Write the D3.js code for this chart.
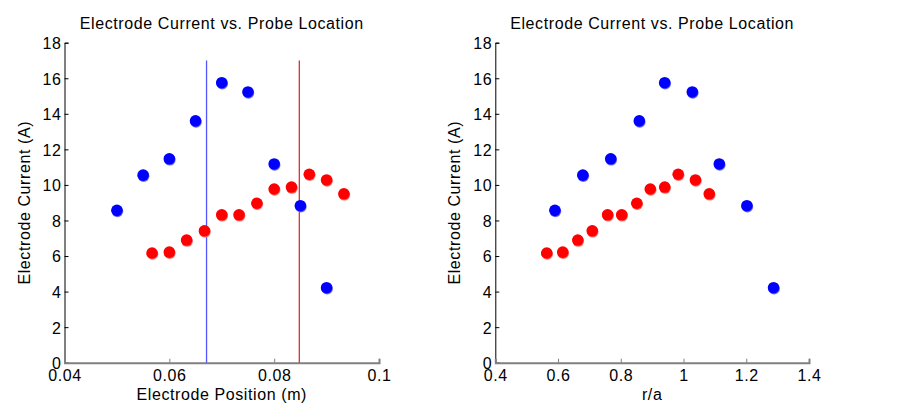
<!DOCTYPE html>
<html><head><meta charset="utf-8">
<script src="https://cdn.jsdelivr.net/npm/d3@7"></script>
<style>body{margin:0;background:#fff}svg{display:block}text{font-family:"Liberation Sans",Arial,sans-serif;fill:#000;letter-spacing:0.6px}</style>
</head><body><svg id="c" width="921" height="417"></svg>
<script>
const title = "Electrode Current vs. Probe Location";
const yLabel = "Electrode Current (A)";
const yTicks = [0,2,4,6,8,10,12,14,16,18];
// Left panel: position (m)
const posTicks = [0.04,0.06,0.08,0.1];
const bluePos = [0.05,0.055,0.06,0.065,0.07,0.075,0.08,0.085,0.09];
const blueCur = [8.57,10.55,11.47,13.6,15.75,15.23,11.18,8.83,4.22];
const redPos = [0.0567,0.06,0.0633,0.0667,0.07,0.0733,0.0767,0.08,0.0833,0.0867,0.09,0.0933];
const redCur = [6.17,6.22,6.9,7.42,8.32,8.32,8.97,9.77,9.88,10.6,10.28,9.5];
const vLines = [{x:0.0671,color:"#5555ff"},{x:0.0848,color:"#e03030"}];
const vLineTop = 17;
// Right panel: r/a
const raTicks = [0.4,0.6,0.8,1,1.2,1.4];
const blueRa = [0.59,0.679,0.768,0.859,0.94,1.028,1.114,1.202,1.287];
const redRa = [0.564,0.615,0.663,0.709,0.758,0.803,0.851,0.894,0.94,0.983,1.038,1.082];

const svg = d3.select("#c");
const plotTop = 42.7, plotBottom = 362.7;
const fs = "16px";

function panel(x0, x1, xdom, xticks, xlab, series, lines){
  const g = svg.append("g");
  const x = d3.scaleLinear().domain(xdom).range([x0,x1]);
  const y = d3.scaleLinear().domain([0,18]).range([plotBottom, plotTop]);
  const ya = g.append("g").attr("transform",`translate(${x0},0)`)
    .call(d3.axisLeft(y).tickValues(yTicks).tickSize(-4).tickPadding(3).tickFormat(d3.format("d")));
  ya.select(".domain").attr("stroke","#000").attr("stroke-width",1);
  ya.selectAll(".tick line").attr("stroke","#000");
  ya.selectAll("text").style("font-size",fs).attr("dy","0.37em");
  const xa = g.append("g").attr("transform",`translate(0,${plotBottom})`)
    .call(d3.axisBottom(x).tickValues(xticks).tickSize(-4).tickPadding(7).tickFormat(d=>String(d)));
  xa.select(".domain").attr("stroke","#808080").attr("stroke-width",2);
  xa.selectAll(".tick line").attr("stroke","#808080");
  xa.selectAll("text").style("font-size",fs).attr("dy","0.71em");
  lines.forEach(l=>{
    g.append("line").attr("x1",x(l.x)).attr("x2",x(l.x)).attr("y1",y(vLineTop)).attr("y2",y(0))
      .attr("stroke",l.color).attr("stroke-width",1.3);
  });
  series.forEach(s=>{
    const pts = s.xs.map((v,i)=>[v,s.ys[i]]);
    g.append("g").selectAll("circle").data(pts).join("circle")
      .attr("cx",d=>x(d[0])+0.5).attr("cy",d=>y(d[1])+1).attr("r",5.8).attr("fill",s.light);
    g.append("g").selectAll("circle").data(pts).join("circle")
      .attr("cx",d=>x(d[0])).attr("cy",d=>y(d[1])).attr("r",5.8).attr("fill",s.color);
  });
  g.append("text").attr("x",(x0+x1)/2).attr("y",29).attr("text-anchor","middle").style("font-size",fs).text(title);
  g.append("text").attr("x",(x0+x1)/2).attr("y",400).attr("text-anchor","middle").style("font-size",fs).text(xlab);
  g.append("text").attr("transform",`translate(${x0-35},${(plotTop+plotBottom)/2}) rotate(-90)`).attr("text-anchor","middle").style("font-size",fs).text(yLabel);
}
panel(64.5, 379, [0.04,0.1], posTicks, "Electrode Position (m)",
  [{xs:bluePos,ys:blueCur,color:"#0000ff",light:"#6a6aff"},{xs:redPos,ys:redCur,color:"#ff0000",light:"#ff7070"}], vLines);
panel(495.3, 809, [0.4,1.4], raTicks, "r/a",
  [{xs:blueRa,ys:blueCur,color:"#0000ff",light:"#6a6aff"},{xs:redRa,ys:redCur,color:"#ff0000",light:"#ff7070"}], []);
</script></body></html>
